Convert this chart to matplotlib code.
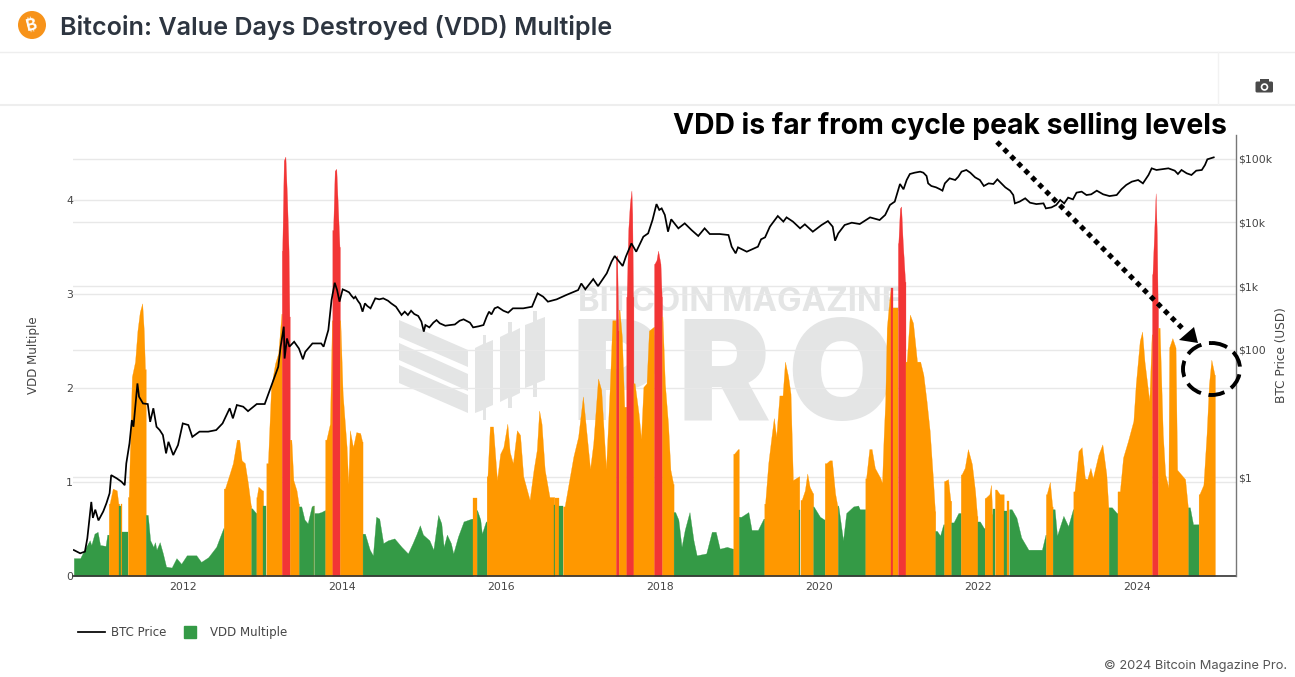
import numpy as np
import matplotlib
matplotlib.use("Agg")
from matplotlib import pyplot as plt
from matplotlib.lines import Line2D
from matplotlib.patches import Circle, Ellipse, FancyBboxPatch, Polygon, Rectangle

WIDTH, HEIGHT = 1295, 677

# year ticks
x_ticks = [2012, 2014, 2016, 2018, 2020, 2022, 2024]
vdd_ticks = [0, 1, 2, 3, 4]
price_ticks = [1, 100, 1000, 10000, 100000]
price_tick_labels = ["$1", "$100", "$1k", "$10k", "$100k"]

# BTC price
price_years = [
    2010.63, 2010.71, 2010.77, 2010.80, 2010.83, 2010.85, 2010.87, 2010.90, 2010.94, 2011.00,
    2011.04, 2011.08, 2011.10, 2011.17, 2011.23, 2011.27, 2011.29, 2011.33, 2011.36, 2011.38,
    2011.43, 2011.45, 2011.50, 2011.56, 2011.59, 2011.63, 2011.67, 2011.71, 2011.75, 2011.79,
    2011.82, 2011.88, 2011.94, 2012.00, 2012.07, 2012.12, 2012.21, 2012.32, 2012.42, 2012.50,
    2012.59, 2012.63, 2012.68, 2012.76, 2012.82, 2012.93, 2013.03, 2013.11, 2013.20, 2013.23,
    2013.27, 2013.28, 2013.31, 2013.34, 2013.40, 2013.46, 2013.51, 2013.54, 2013.63, 2013.74,
    2013.77, 2013.83, 2013.87, 2013.91, 2013.94, 2013.97, 2014.01, 2014.05, 2014.09, 2014.12,
    2014.15, 2014.17, 2014.20, 2014.23, 2014.26, 2014.29, 2014.32, 2014.36, 2014.39, 2014.42,
    2014.47, 2014.52, 2014.58, 2014.62, 2014.68, 2014.75, 2014.79, 2014.83, 2014.87, 2014.91,
    2014.96, 2015.00, 2015.03, 2015.05, 2015.10, 2015.15, 2015.19, 2015.23, 2015.30, 2015.36,
    2015.42, 2015.48, 2015.53, 2015.61, 2015.65, 2015.72, 2015.78, 2015.82, 2015.85, 2015.88,
    2015.92, 2015.96, 2016.03, 2016.09, 2016.15, 2016.28, 2016.39, 2016.46, 2016.53, 2016.59,
    2016.70, 2016.82, 2016.97, 2017.01, 2017.06, 2017.16, 2017.22, 2017.33, 2017.39, 2017.43,
    2017.53, 2017.57, 2017.64, 2017.70, 2017.79, 2017.85, 2017.905, 2017.955, 2017.99, 2018.02,
    2018.06, 2018.10, 2018.14, 2018.23, 2018.31, 2018.395, 2018.48, 2018.56, 2018.625, 2018.75,
    2018.86, 2018.90, 2018.95, 2018.98, 2019.09, 2019.23, 2019.27, 2019.32, 2019.38, 2019.48,
    2019.55, 2019.59, 2019.67, 2019.76, 2019.82, 2019.92, 2020.03, 2020.11, 2020.17, 2020.20,
    2020.24, 2020.32, 2020.41, 2020.51, 2020.64, 2020.76, 2020.83, 2020.89, 2020.95, 2021.016,
    2021.06, 2021.10, 2021.14, 2021.20, 2021.27, 2021.31, 2021.35, 2021.37, 2021.41, 2021.47,
    2021.52, 2021.55, 2021.58, 2021.64, 2021.71, 2021.75, 2021.79, 2021.85, 2021.90, 2021.96,
    2022.02, 2022.07, 2022.13, 2022.19, 2022.24, 2022.29, 2022.34, 2022.40, 2022.44, 2022.46,
    2022.52, 2022.59, 2022.65, 2022.73, 2022.82, 2022.85, 2022.92, 2022.98, 2023.03, 2023.08,
    2023.13, 2023.19, 2023.235, 2023.30, 2023.36, 2023.42, 2023.49, 2023.57, 2023.65, 2023.74,
    2023.80, 2023.86, 2023.93, 2024.01, 2024.07, 2024.14, 2024.18, 2024.24, 2024.30, 2024.39,
    2024.47, 2024.51, 2024.555, 2024.62, 2024.68, 2024.74, 2024.81, 2024.85, 2024.88, 2024.96,
]
price_usd = [
    0.072, 0.064, 0.068, 0.11, 0.24, 0.41, 0.23, 0.31, 0.21, 0.29,
    0.39, 0.56, 1.08, 0.96, 0.85, 0.75, 1.65, 3.4, 7.9, 6.2,
    29.7, 18.4, 14.4, 14.1, 7.4, 12.1, 6.2, 5.5, 4.6, 2.37,
    3.6, 2.23, 3.2, 7.0, 6.6, 4.3, 5.2, 5.2, 5.5, 7.0,
    12.1, 8.4, 13.6, 12.8, 10.9, 14.1, 14.1, 26.4, 54, 112,
    231, 73, 151, 112, 134, 105, 71, 93, 126, 126,
    112, 205, 605, 1130, 868, 570, 890, 848, 799, 708,
    643, 683, 590, 524, 397, 536, 487, 448, 536, 643,
    620, 643, 590, 536, 475, 352, 397, 352, 411, 365,
    340, 277, 193, 245, 225, 267, 293, 261, 239, 245,
    250, 286, 301, 267, 225, 234, 245, 331, 397, 360,
    448, 470, 411, 383, 448, 448, 475, 770, 683, 570,
    620, 725, 868, 1100, 890, 1290, 1000, 1590, 2420, 2970,
    2070, 2900, 4690, 3470, 5970, 6730, 10900, 19400, 15700, 16600,
    13100, 7150, 11200, 8070, 9670, 7600, 6120, 8070, 6570, 6570,
    6340, 4160, 3270, 4060, 3470, 4160, 5430, 5830, 8570, 12600,
    10300, 12000, 10300, 8070, 9330, 7150, 9100, 10500, 8570, 5170,
    6730, 9100, 9900, 9430, 12000, 10900, 13100, 18800, 21200, 40100,
    33100, 46300, 57500, 60300, 62600, 60300, 53500, 41000, 37300, 35500,
    33100, 31500, 41000, 49200, 46300, 52200, 62600, 66500, 60300, 51000,
    46300, 37300, 41000, 40100, 47400, 41000, 35500, 31500, 26900, 19900,
    21200, 23900, 20400, 19400, 19900, 16600, 17200, 18800, 22500, 19900,
    24500, 23000, 29300, 30400, 26900, 27600, 31500, 27600, 25900, 26900,
    33100, 38700, 43600, 46300, 41000, 55500, 70600, 66500, 68200, 70600,
    64900, 57500, 66500, 59000, 55500, 64900, 66500, 79700, 97800, 105000,
]

# VDD multiple, one row per colour band
vdd_years = [
    2010.63, 2010.71, 2010.77, 2010.83, 2010.85, 2010.89, 2010.93, 2010.96, 2011.03, 2011.05,
    2011.08, 2011.12, 2011.17, 2011.19,
    2011.21,
    2011.23,
    2011.25, 2011.30,
    2011.32, 2011.33, 2011.36, 2011.40, 2011.43, 2011.46, 2011.49, 2011.51, 2011.525,
    2011.56, 2011.59, 2011.63, 2011.65, 2011.67, 2011.71, 2011.75, 2011.79, 2011.86, 2011.92, 2011.98, 2012.05, 2012.17, 2012.23, 2012.32, 2012.42, 2012.51,
    2012.53, 2012.59, 2012.63, 2012.68, 2012.71, 2012.74, 2012.78, 2012.82, 2012.855,
    2012.87, 2012.92,
    2012.93, 2012.95, 2013.00,
    2013.03,
    2013.07, 2013.11, 2013.16, 2013.20, 2013.24,
    2013.25, 2013.27, 2013.29, 2013.31, 2013.33, 2013.34,
    2013.365, 2013.39, 2013.43, 2013.455,
    2013.49, 2013.53, 2013.57, 2013.62, 2013.64,
    2013.65,
    2013.70, 2013.74, 2013.785,
    2013.805, 2013.85, 2013.875,
    2013.89, 2013.91, 2013.93, 2013.95, 2013.97,
    2013.98, 2014.01, 2014.06, 2014.08, 2014.10, 2014.14, 2014.18, 2014.23, 2014.255,
    2014.29, 2014.35, 2014.39, 2014.43, 2014.47, 2014.52, 2014.58, 2014.66, 2014.75, 2014.83, 2014.89, 2014.94, 2014.98, 2015.02, 2015.10, 2015.15, 2015.21, 2015.25, 2015.28, 2015.32, 2015.37, 2015.40, 2015.46, 2015.53, 2015.63,
    2015.65, 2015.69,
    2015.70, 2015.74, 2015.76, 2015.81,
    2015.83, 2015.86, 2015.90, 2015.95, 2015.99, 2016.03, 2016.08, 2016.11, 2016.15, 2016.20, 2016.24, 2016.28, 2016.36, 2016.41, 2016.45, 2016.48, 2016.51, 2016.55, 2016.61, 2016.665,
    2016.68,
    2016.70, 2016.725,
    2016.775,
    2016.80, 2016.85, 2016.91, 2016.97, 2017.03, 2017.08, 2017.12, 2017.16, 2017.22, 2017.26, 2017.32, 2017.37, 2017.40, 2017.44,
    2017.45, 2017.46, 2017.475,
    2017.49, 2017.52, 2017.55, 2017.57,
    2017.58, 2017.60, 2017.62, 2017.64, 2017.65, 2017.66,
    2017.68, 2017.73, 2017.76, 2017.79, 2017.83, 2017.86, 2017.92,
    2017.93, 2017.955, 2017.975, 2018.005, 2018.02,
    2018.03, 2018.06, 2018.10, 2018.13, 2018.165,
    2018.19, 2018.23, 2018.27, 2018.31, 2018.37, 2018.42, 2018.46, 2018.58, 2018.65, 2018.70, 2018.75, 2018.84, 2018.915,
    2018.93, 2018.98,
    2019.02, 2019.11, 2019.15, 2019.23, 2019.30,
    2019.32, 2019.36, 2019.40, 2019.43, 2019.46, 2019.50, 2019.54, 2019.57, 2019.61, 2019.64, 2019.67, 2019.745,
    2019.76,
    2019.78, 2019.82, 2019.85, 2019.88, 2019.92,
    2019.93, 2020.01, 2020.065,
    2020.09, 2020.13, 2020.16, 2020.20, 2020.23,
    2020.24, 2020.30, 2020.34, 2020.43, 2020.49, 2020.51, 2020.57,
    2020.59, 2020.63, 2020.66, 2020.70, 2020.77, 2020.79, 2020.81, 2020.83, 2020.85, 2020.88, 2020.90,
    2020.915,
    2020.93, 2020.98,
    2020.995, 2021.015, 2021.03, 2021.05, 2021.08,
    2021.10, 2021.14, 2021.18, 2021.23, 2021.27, 2021.31, 2021.35, 2021.39, 2021.43, 2021.455,
    2021.48, 2021.52, 2021.56,
    2021.58, 2021.62, 2021.65,
    2021.69, 2021.75,
    2021.79, 2021.83, 2021.87, 2021.92, 2021.96, 2021.985,
    2022.02, 2022.07,
    2022.09, 2022.14, 2022.16, 2022.175,
    2022.19,
    2022.23, 2022.27, 2022.31,
    2022.33,
    2022.36, 2022.385,
    2022.42, 2022.48, 2022.54, 2022.63, 2022.73, 2022.80, 2022.845,
    2022.86, 2022.90, 2022.93,
    2022.96, 2022.99, 2023.07, 2023.13, 2023.19,
    2023.21, 2023.26, 2023.30, 2023.34, 2023.37, 2023.41, 2023.44, 2023.51, 2023.56, 2023.61, 2023.635,
    2023.68, 2023.74,
    2023.78, 2023.82, 2023.88, 2023.95, 2023.98, 2024.03, 2024.06, 2024.09, 2024.15, 2024.18,
    2024.19, 2024.21, 2024.23, 2024.245, 2024.255,
    2024.28, 2024.32, 2024.35, 2024.39, 2024.40, 2024.44, 2024.48, 2024.50, 2024.55, 2024.60, 2024.635,
    2024.66, 2024.70, 2024.75,
    2024.78, 2024.83, 2024.87, 2024.90, 2024.93, 2024.97,
]
vdd_values = [
    .19, .19, .29, .38, .33, .45, .47, .33, .32, .44,
    .77, .93, .91, .77,
    .74,
    .77,
    .47, .47,
    .84, 1.16, 2.12, 2.28, 2.61, 2.81, 2.90, 2.61, 2.2,
    .65, .38, .31, .36, .28, .36, .24, .10, .09, .19, .13, .22, .22, .15, .20, .31, .51,
    .93, 1.09, 1.20, 1.45, 1.45, 1.23, 1.20, .98, .75,
    .72, .67,
    .84, .95, .91,
    .74,
    1.20, 2.01, 2.26, 2.37, 2.79,
    3.46, 4.42, 4.46, 4.03, 3.46, 2.76,
    1.45, 1.02, .91, .77,
    .74, .60, .56, .74, .75,
    .74,
    .67, .68, .70,
    1.45, 1.62, 2.72,
    3.68, 4.31, 4.33, 3.92, 3.50,
    2.72, 1.94, 1.37, .98, 1.55, 1.37, 1.53, 1.52, 1.43,
    .45, .28, .22, .63, .61, .35, .38, .40, .31, .24, .35, .45, .54, .44, .38, .28, .65, .56, .31, .44, .35, .24, .42, .58, .61,
    .83, .83,
    .70, .60, .45, .58,
    1.06, 1.59, 1.59, 1.02, 1.30, 1.37, 1.62, 1.32, 1.20, 1.55, 1.50, 1.06, .81, 1.13, 1.34, 1.76, 1.62, 1.13, .84, .84,
    .75,
    .83, .83,
    .74,
    .74, .98, 1.27, 1.48, 1.91, 1.48, 1.14, 1.41, 2.10, 1.98, 1.14, 2.05, 2.72, 2.72,
    3.39, 3.41, 2.61,
    2.83, 2.54, 1.80, 1.80,
    2.97, 3.68, 3.96, 4.10, 3.85, 2.97,
    2.05, 1.73, 1.46, 2.01, 2.05, 2.61, 2.65,
    3.32, 3.36, 3.46, 3.32, 2.97,
    2.76, 2.05, 1.62, 1.13, .98,
    .68, .60, .31, .49, .68, .38, .22, .24, .47, .47, .29, .31, .29,
    1.30, 1.35,
    .63, .68, .49, .49, .61,
    .77, 1.20, 1.48, 1.68, 1.48, 1.92, 1.92, 2.28, 2.12, 1.94, 1.02, 1.06,
    .70,
    .81, .91, 1.09, .95, .88,
    .74, .63, .60,
    1.20, 1.23, 1.23, .88, .74,
    .75, .38, .67, .74, .75, .71, .71,
    1.04, 1.35, 1.35, 1.15, 1.04, .99, 1.47, 1.86, 2.64, 2.92, 3.06,
    3.06,
    2.85, 2.85,
    3.54, 3.91, 3.93, 3.56, 3.13,
    2.28, 2.78, 2.69, 2.28, 2.28, 2.14, 1.86, 1.54, 1.04, .69,
    .48, .43, .55,
    1.01, 1.03, .80,
    .57, .67,
    1.08, 1.15, 1.35, 1.19, .90, .64,
    .58, .51,
    .83, .87, .97, .66,
    .71,
    .92, .87, .87,
    .69,
    .80, .80,
    .71, .62, .41, .28, .28, .28, .44,
    .87, 1.00, .74,
    .71, .43, .64, .53, .71,
    .90, 1.33, 1.37, 1.04, 1.03, 1.15, 1.04, 1.29, 1.40, 1.08, .73,
    .73, .67,
    .90, 1.26, 1.43, 1.65, 2.04, 2.50, 2.60, 2.28, 1.86, 2.57,
    3.21, 3.63, 4.07, 3.63, 2.92,
    2.64, 1.51, 1.08, .94, 2.43, 2.53, 2.43, 1.13, 1.08, 1.03, .73,
    .73, .55, .55,
    .87, .97, 1.51, 2.04, 2.30, 2.14,
]
band_starts = [
    2010.63, 2011.07, 2011.20, 2011.22, 2011.24, 2011.31, 2011.535, 2012.515, 2012.86, 2012.925,
    2013.01, 2013.05, 2013.245, 2013.345, 2013.46, 2013.648, 2013.655, 2013.79, 2013.88, 2013.975,
    2014.26, 2015.645, 2015.695, 2015.82, 2016.67, 2016.685, 2016.73, 2016.78, 2017.445, 2017.48,
    2017.575, 2017.665, 2017.925, 2018.025, 2018.17, 2018.92, 2018.99, 2019.31, 2019.75, 2019.765,
    2019.925, 2020.07, 2020.235, 2020.58, 2020.905, 2020.925, 2020.99, 2021.085, 2021.46, 2021.57,
    2021.66, 2021.78, 2021.99, 2022.08, 2022.18, 2022.21, 2022.32, 2022.355, 2022.39, 2022.85,
    2022.935, 2023.195, 2023.64, 2023.75, 2024.185, 2024.26, 2024.64, 2024.77,
]
band_levels = [
    "g", "o", "g", "o", "g", "o", "g", "o", "g", "o",
    "g", "o", "r", "o", "g", "o", "g", "o", "r", "o",
    "g", "o", "g", "o", "g", "o", "g", "o", "r", "o",
    "r", "o", "r", "o", "g", "o", "g", "o", "g", "o",
    "g", "o", "g", "o", "r", "o", "r", "o", "g", "o",
    "g", "o", "g", "o", "g", "o", "g", "o", "g", "o",
    "g", "o", "g", "o", "r", "o", "g", "o",
]
last_year = 2024.975
level_colors = {"g": "#349a46", "o": "#ff9800", "r": "#f23535"}

GRID = "#e8e8e8"
TEXT = "#444444"
WATERMARK = "#e4e5e5"

plt.rcParams["font.family"] = ["DejaVu Sans"]
fig = plt.figure(figsize=(WIDTH / 100, HEIGHT / 100), dpi=100)
fig.patch.set_facecolor("white")

# plot box, pixels from the top left of the image
left, right, top, bottom = 73, 1236, 135, 576
box = [left / WIDTH, 1 - bottom / HEIGHT, (right - left) / WIDTH, (bottom - top) / HEIGHT]
xlim = (2010.62, 2025.24)
vdd_lim = (0, 4.69)
price_lim = (10 ** -1.55, 10 ** 5.372)

# whole figure layers in pixel coords, one under the chart and one on top
under = fig.add_axes([0, 0, 1, 1], zorder=0)
over = fig.add_axes([0, 0, 1, 1], zorder=5)
for layer in (under, over):
    layer.set_xlim(0, WIDTH)
    layer.set_ylim(HEIGHT, 0)
    layer.axis("off")
    layer.patch.set_alpha(0)

# price grid has its own axes so the bars cover it
grid_ax = fig.add_axes(box, zorder=1)
grid_ax.patch.set_alpha(0)
grid_ax.set_xlim(*xlim)
grid_ax.set_xticks([])
grid_ax.set_yscale("log")
grid_ax.set_ylim(*price_lim)
grid_ax.set_yticks(price_ticks)
grid_ax.set_yticklabels([])
grid_ax.minorticks_off()
grid_ax.tick_params(length=0)
grid_ax.grid(axis="y", color=GRID, lw=1)
for spine in grid_ax.spines.values():
    spine.set_visible(False)

ax = fig.add_axes(box, zorder=2)
ax.patch.set_alpha(0)
years = np.array(vdd_years)
values = np.array(vdd_values)
starts = np.array(band_starts)
ends = np.append(starts[1:], last_year)
band_index = np.searchsorted(starts, years, side="right") - 1
for i, level in enumerate(band_levels):
    mask = band_index == i
    xs = np.concatenate(([starts[i]], years[mask], [ends[i]]))
    ys = np.concatenate(([values[mask][0]], values[mask], [values[mask][-1]]))
    ax.fill_between(xs, 0, ys, color=level_colors[level], lw=0.2, zorder=2)
ax.set_xlim(*xlim)
ax.set_ylim(*vdd_lim)
ax.set_xticks(x_ticks)
ax.set_xticklabels([str(y) for y in x_ticks])
ax.set_yticks(vdd_ticks)
ax.grid(axis="y", color=GRID, lw=1, zorder=0)
ax.set_axisbelow(True)
ax.tick_params(length=0, labelsize=7.8, labelcolor=TEXT)
ax.tick_params(axis="x", pad=4)
ax.tick_params(axis="y", pad=0)
ax.set_ylabel("VDD Multiple", fontsize=8.6, color=TEXT, labelpad=19)
for name in ("top", "left", "right"):
    ax.spines[name].set_visible(False)
ax.spines["bottom"].set_color("#333333")
ax.spines["bottom"].set_linewidth(1.2)

ax2 = fig.add_axes(box, zorder=3)
ax2.patch.set_alpha(0)
price_line, = ax2.plot(price_years, price_usd, color="black", lw=1.25, solid_joinstyle="miter", label="BTC Price")
ax2.set_xlim(*xlim)
ax2.set_xticks([])
ax2.set_yscale("log")
ax2.set_ylim(*price_lim)
ax2.yaxis.tick_right()
ax2.yaxis.set_label_position("right")
ax2.set_yticks(price_ticks)
ax2.set_yticklabels(price_tick_labels)
ax2.minorticks_off()
ax2.tick_params(length=0, labelsize=7.8, labelcolor=TEXT, pad=1.5)
ax2.set_ylabel("BTC Price (USD)", fontsize=8.7, color=TEXT, labelpad=2)
for name in ("top", "left", "bottom"):
    ax2.spines[name].set_visible(False)
ax2.spines["right"].set_color("#777777")
ax2.spines["right"].set_linewidth(1)

handles = [
    price_line,
    Line2D([], [], ls="none", marker="s", ms=8, color=level_colors["g"], label="VDD Multiple"),
]
legend = ax2.legend(
    handles=handles, loc="center left", bbox_to_anchor=(78 / WIDTH, 1 - 632.5 / HEIGHT),
    bbox_transform=fig.transFigure, ncol=2, frameon=False, fontsize=8.5,
    handlelength=2.3, handletextpad=0.5, columnspacing=0.85, borderpad=0, borderaxespad=0,
)
for text in legend.get_texts():
    text.set_color(TEXT)

# watermark
for pts in [
    [(399, 320), (468, 350), (468, 367), (399, 337)],
    [(399, 343), (468, 374), (468, 391), (399, 360)],
    [(399, 365), (468, 395), (468, 413), (399, 383)],
    [(475, 348), (483, 344), (483, 335), (486, 335), (486, 343), (493, 340), (493, 405), (486, 408), (486, 420), (483, 420), (483, 410), (475, 413)],
    [(500, 337), (508, 333), (508, 322), (512, 322), (512, 332), (520, 328), (520, 393), (512, 397), (512, 408), (508, 408), (508, 398), (500, 402)],
    [(525, 325), (533, 322), (533, 311), (537, 311), (537, 320), (545, 317), (545, 380), (537, 383), (537, 397), (533, 397), (533, 385), (525, 388)],
]:
    under.add_patch(Polygon(pts, closed=True, color=WATERMARK, lw=0))
under.text(578, 311, "BITCOIN MAGAZINE", family="Inter", weight="bold", fontsize=23.6, color=WATERMARK, va="baseline")
# letters placed one by one, the logo type is wider than Inter
for letter, letter_x in zip("PRO", [571, 678, 787]):
    under.text(letter_x, 420, letter, family="Inter", weight="black", fontsize=100, color=WATERMARK, va="baseline")

# page header
over.add_line(Line2D([0, WIDTH], [52, 52], color="#eeeeee", lw=1))
over.add_line(Line2D([0, WIDTH], [104.5, 104.5], color="#eeeeee", lw=1.5))
over.add_line(Line2D([1218, 1218], [52, 104], color="#f2f2f2", lw=1))
over.add_patch(Circle((32, 25), 14, color="#f7931a", lw=0))
over.text(32, 25.5, "\u20bf", color="white", fontsize=12, weight="bold", rotation=14, ha="center", va="center",
          family=["Inter", "Noto Sans", "Roboto", "Open Sans", "Lato", "Liberation Sans", "DejaVu Sans"])
over.text(60, 35.5, "Bitcoin: Value Days Destroyed (VDD) Multiple", family="Inter", weight="semibold",
          fontsize=18.1, color="#2d3540", va="baseline")

# camera button
over.add_patch(FancyBboxPatch((1255.5, 81.5), 17.5, 11, boxstyle="round,pad=0,rounding_size=1.5", color="#4a4a4a", lw=0))
over.add_patch(Rectangle((1260, 79), 9, 3, color="#4a4a4a", lw=0))
over.add_patch(Circle((1264.5, 87), 3.8, color="white", lw=0))
over.add_patch(Circle((1264.5, 87), 2.1, color="#4a4a4a", lw=0))

# callout
over.text(673, 134, "VDD is far from cycle peak selling levels", family="Inter", weight="bold",
          fontsize=20.4, color="black", va="baseline")
over.add_line(Line2D([997, 1182], [142, 328], color="black", lw=3.6, ls=(0, (1, 0.98)), dash_capstyle="butt"))
over.add_patch(Polygon([(1179, 340), (1194, 327), (1198, 343)], closed=True, color="black", lw=0))
over.add_patch(Ellipse((1211.5, 369), 57, 52, fill=False, ec="black", lw=2.8, ls=(0, (4.2, 2))))

# footer
over.text(1287, 669, "\u00a9 2024 Bitcoin Magazine Pro.", family="Inter", fontsize=9.25, color="#555555",
          ha="right", va="baseline")

fig.savefig("out.png", dpi=100)
